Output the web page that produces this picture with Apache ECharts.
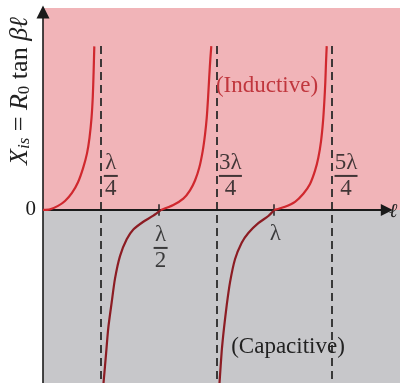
<!DOCTYPE html>
<html><head><meta charset="utf-8">
<script src="https://cdn.jsdelivr.net/npm/echarts@6/dist/echarts.min.js"></script>
<style>html,body{margin:0;padding:0;background:#fff}#c{width:400px;height:383px}</style>
</head><body><div id="c"></div>
<script>
// x in units of wavelength (λ), y in units of R0
const branch1X = [0, 0.0303, 0.0649, 0.0952, 0.1254, 0.1514, 0.1730, 0.1903, 0.2011, 0.2098, 0.2154, 0.2189, 0.2219];
const branch1Y = [0, 0.02, 0.14, 0.31, 0.59, 0.96, 1.44, 1.96, 2.50, 3.18, 3.93, 4.78, 5.67];

const branch2X = [0.2617, 0.2725, 0.2824, 0.2971, 0.3114, 0.3330, 0.3620, 0.3906, 0.4338, 0.4771, 0.5104,
                  0.5636, 0.6068, 0.6358, 0.6574, 0.6760, 0.6907, 0.7007, 0.7080, 0.7137, 0.7193, 0.7236, 0.7279];
const branch2Y = [-6.0, -5.01, -4.09, -3.20, -2.38, -1.60, -1.02, -0.68, -0.41, -0.20, 0,
                  0.17, 0.39, 0.68, 1.02, 1.47, 2.04, 2.61, 3.18, 3.86, 4.66, 5.22, 5.68];

const branch3X = [0.7634, 0.7729, 0.7829, 0.7946, 0.8088, 0.8304, 0.8594, 0.8880, 0.9312, 0.9745, 1.0,
                  1.0467, 1.0900, 1.1259, 1.1548, 1.1765, 1.1907, 1.2024, 1.2111, 1.2167, 1.2210, 1.2240, 1.2271];
const branch3Y = [-6.0, -4.90, -4.09, -3.30, -2.51, -1.71, -1.14, -0.80, -0.46, -0.21, 0,
                  0.11, 0.28, 0.56, 0.90, 1.36, 1.81, 2.38, 3.07, 3.75, 4.43, 5.11, 5.68];

const tickValues = [0.25, 0.5, 0.75, 1.0, 1.25];
const tickNums   = ['λ', 'λ', '3λ', 'λ', '5λ'];
const tickDens   = ['4', '2', '4', '', '4'];
const asymptotes = [0.25, 0.75, 1.25];
const asymTop = 5.68;
const zeroTicks = [0.5, 1.0];

const X_MIN = 0, X_MAX = 1.544, Y_MIN = -6, Y_MAX = 7;
const X_ARROW_END = 1.487, Y_ARROW_END = 6.86;

const zip = (xs, ys) => xs.map((x, i) => [x, ys[i]]);
const SERIF = '"Liberation Serif", "DejaVu Serif", serif';
const UP_COLOR = '#d0282e', DOWN_COLOR = '#8c1c23';

// split each branch into its inductive (>=0) and capacitive (<=0) parts
const branches = [[branch1X, branch1Y], [branch2X, branch2Y], [branch3X, branch3Y]];
const curveSeries = [];
branches.forEach(([xs, ys]) => {
  const pts = zip(xs, ys);
  const neg = pts.filter(p => p[1] <= 0);
  const pos = pts.filter(p => p[1] >= 0);
  const base = { type: 'line', showSymbol: false, smooth: 0.25, z: 5 };
  if (neg.length > 1) curveSeries.push(Object.assign({}, base, { data: neg, lineStyle: { width: 2.2, color: DOWN_COLOR } }));
  if (pos.length > 1) curveSeries.push(Object.assign({}, base, { data: pos, lineStyle: { width: 2.2, color: UP_COLOR } }));
});

const tickLabelData = tickValues.map((v, i) => {
  const above = tickDens[i] === '4';
  let formatter, offset;
  if (tickDens[i] === '') {
    formatter = '{n|' + tickNums[i] + '}';
    offset = [1, 24];
  } else {
    const wide = tickNums[i].length > 1;
    formatter = '{n|' + tickNums[i] + '}\n{' + (wide ? 'bw' : 'b') + '| }\n{n|' + tickDens[i] + '}';
    offset = above ? [wide ? 14 : 10, -34] : [2, 38];
  }
  return { value: [v, 0], label: { formatter: formatter, offset: offset } };
});

const chart = echarts.init(document.getElementById('c'), null, { renderer: 'canvas' });

chart.setOption({
  animation: false,
  backgroundColor: '#fff',
  grid: { left: 43, right: 0, top: 8, bottom: -6 },
  xAxis: { type: 'value', min: X_MIN, max: X_MAX, show: false },
  yAxis: {
    type: 'value', min: Y_MIN, max: Y_MAX, interval: 1,
    axisLine: { show: false }, axisTick: { show: false }, splitLine: { show: false },
    axisLabel: {
      formatter: v => (v === 0 ? '0' : ''),
      margin: 7, fontSize: 21, color: '#1a1a1a', fontFamily: SERIF
    }
  },
  series: [
    ...curveSeries,
    {
      type: 'scatter', symbolSize: 0, data: tickLabelData, z: 6,
      label: {
        show: true, position: 'inside', color: '#151515', fontFamily: SERIF,
        rich: {
          n: { fontSize: 23, lineHeight: 20, color: '#151515', fontFamily: SERIF, align: 'center' },
          b: { width: 14, height: 2, lineHeight: 6, backgroundColor: '#151515', fontSize: 2, align: 'center' },
          bw: { width: 23, height: 2, lineHeight: 6, backgroundColor: '#151515', fontSize: 2, align: 'center' }
        }
      },
      markArea: {
        silent: true,
        data: [
          [{ yAxis: 0, itemStyle: { color: '#f1b4b8' } }, { yAxis: Y_MAX }],
          [{ yAxis: Y_MIN, itemStyle: { color: '#c7c7ca' } }, { yAxis: 0 }]
        ]
      },
      markLine: {
        silent: true, symbol: 'none', label: { show: false },
        data: [
          ...asymptotes.map(v => [
            { coord: [v, asymTop], lineStyle: { type: [8, 5], color: '#2a2a2a', width: 1.8 } },
            { coord: [v, Y_MIN] }
          ]),
          ...zeroTicks.map(v => [
            { coord: [v, 0.2], lineStyle: { type: 'solid', color: '#222', width: 1.5 } },
            { coord: [v, -0.2] }
          ]),
          [
            { coord: [0, 0], symbol: 'none', lineStyle: { type: 'solid', color: '#1a1a1a', width: 2 } },
            { coord: [X_ARROW_END, 0], symbol: 'triangle', symbolSize: 12 }
          ],
          [
            { coord: [0, Y_MIN], symbol: 'none', lineStyle: { type: 'solid', color: '#1a1a1a', width: 1.6 } },
            { coord: [0, Y_ARROW_END], symbol: 'triangle', symbolSize: 13 }
          ]
        ]
      }
    }
  ],
  graphic: [
    {
      type: 'text', x: 20, y: 91, rotation: Math.PI / 2, z: 10,
      style: {
        text: '{i|X}{si|is} = {i|R}{s0|0} tan {i|βℓ}',
        align: 'center', verticalAlign: 'middle',
        font: '26px ' + SERIF, fill: '#222',
        rich: {
          i: { fontStyle: 'italic', fontSize: 26, fontFamily: SERIF, fill: '#222' },
          si: { fontStyle: 'italic', fontSize: 17, fontFamily: SERIF, fill: '#222', verticalAlign: 'bottom', padding: [10, 0, 0, 0] },
          s0: { fontSize: 17, fontFamily: SERIF, fill: '#222', verticalAlign: 'bottom', padding: [10, 0, 0, 0] }
        }
      }
    },
    {
      type: 'text', x: 389, y: 212, z: 10,
      style: { text: 'ℓ', font: 'italic 20px ' + SERIF, fill: '#222', align: 'left', verticalAlign: 'middle' }
    },
    {
      type: 'text', x: 267, y: 86, z: 10,
      style: { text: '(Inductive)', font: '23px ' + SERIF, fill: '#c0363d', align: 'center', verticalAlign: 'middle' }
    },
    {
      type: 'text', x: 288, y: 347, z: 10,
      style: { text: '(Capacitive)', font: '23px ' + SERIF, fill: '#222', align: 'center', verticalAlign: 'middle' }
    }
  ]
});
</script></body></html>
